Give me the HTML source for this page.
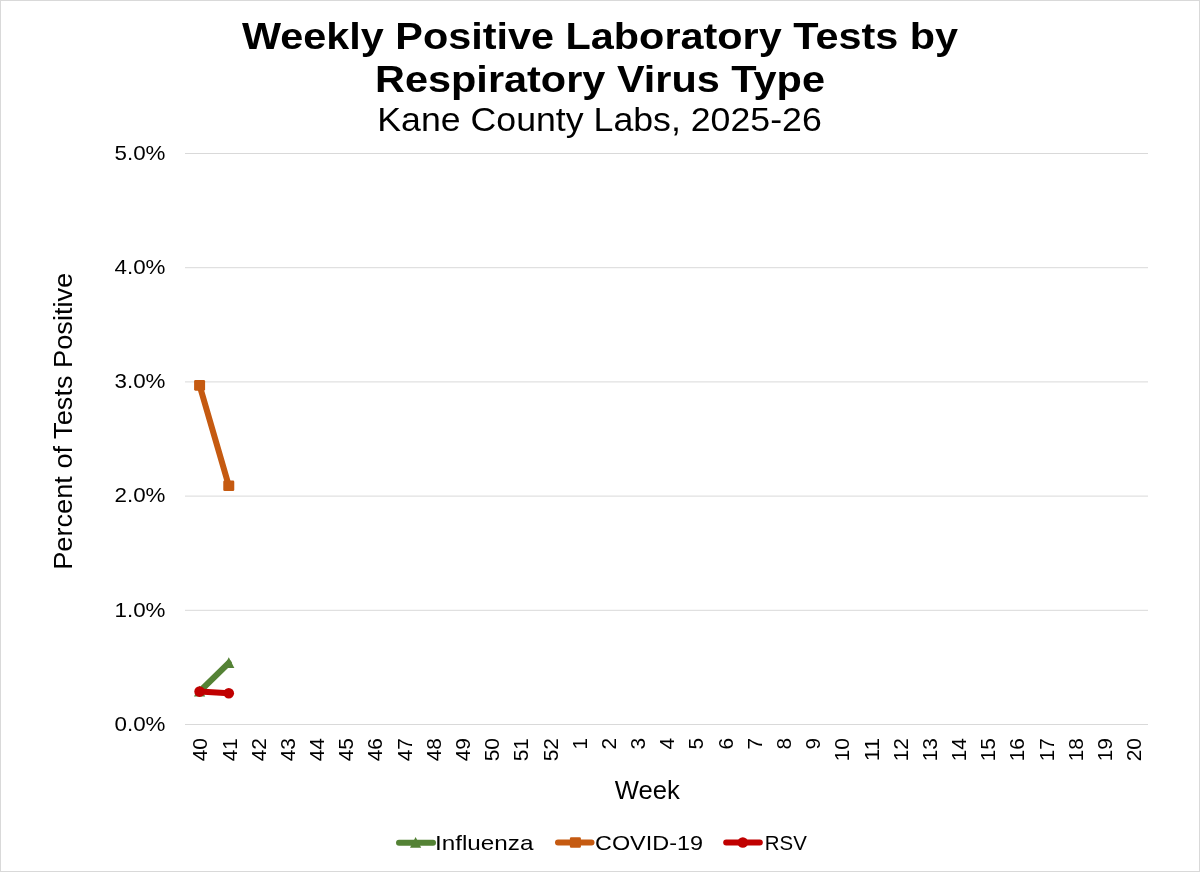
<!DOCTYPE html>
<html><head><meta charset="utf-8"><title>Weekly Positive Laboratory Tests by Respiratory Virus Type</title>
<style>
html,body{margin:0;padding:0;background:#fff;}
body{width:1200px;height:872px;overflow:hidden;}
svg{display:block;will-change:transform;}
text{font-family:"Liberation Sans", sans-serif;fill:#000;}
</style></head><body>
<svg width="1200" height="872" viewBox="0 0 1200 872">
<rect x="0.5" y="0.5" width="1199" height="871" fill="#ffffff" stroke="#d9d9d9" stroke-width="1"/>

<line x1="185.0" y1="724.50" x2="1148.0" y2="724.50" stroke="#d9d9d9" stroke-width="1"/>
<line x1="185.0" y1="610.30" x2="1148.0" y2="610.30" stroke="#d9d9d9" stroke-width="1"/>
<line x1="185.0" y1="496.10" x2="1148.0" y2="496.10" stroke="#d9d9d9" stroke-width="1"/>
<line x1="185.0" y1="381.90" x2="1148.0" y2="381.90" stroke="#d9d9d9" stroke-width="1"/>
<line x1="185.0" y1="267.70" x2="1148.0" y2="267.70" stroke="#d9d9d9" stroke-width="1"/>
<line x1="185.0" y1="153.50" x2="1148.0" y2="153.50" stroke="#d9d9d9" stroke-width="1"/>
<text x="600" y="48.9" text-anchor="middle" font-size="36" font-weight="bold" textLength="716" lengthAdjust="spacingAndGlyphs">Weekly Positive Laboratory Tests by</text>
<text x="600" y="91.75" text-anchor="middle" font-size="36" font-weight="bold" textLength="450" lengthAdjust="spacingAndGlyphs">Respiratory Virus Type</text>
<text x="599.5" y="130.6" text-anchor="middle" font-size="32.4" textLength="444.5" lengthAdjust="spacingAndGlyphs">Kane County Labs, 2025-26</text>
<text x="165.5" y="730.80" text-anchor="end" font-size="20.4" textLength="51" lengthAdjust="spacingAndGlyphs">0.0%</text>
<text x="165.5" y="616.60" text-anchor="end" font-size="20.4" textLength="51" lengthAdjust="spacingAndGlyphs">1.0%</text>
<text x="165.5" y="502.40" text-anchor="end" font-size="20.4" textLength="51" lengthAdjust="spacingAndGlyphs">2.0%</text>
<text x="165.5" y="388.20" text-anchor="end" font-size="20.4" textLength="51" lengthAdjust="spacingAndGlyphs">3.0%</text>
<text x="165.5" y="274.00" text-anchor="end" font-size="20.4" textLength="51" lengthAdjust="spacingAndGlyphs">4.0%</text>
<text x="165.5" y="159.80" text-anchor="end" font-size="20.4" textLength="51" lengthAdjust="spacingAndGlyphs">5.0%</text>
<text transform="translate(72,569.8) rotate(-90)" x="0" y="0" font-size="25" textLength="297" lengthAdjust="spacingAndGlyphs">Percent of Tests Positive</text>
<text transform="translate(207.39,738) rotate(-90)" x="0" y="0" text-anchor="end" font-size="20" textLength="23.3" lengthAdjust="spacingAndGlyphs">40</text>
<text transform="translate(236.57,738) rotate(-90)" x="0" y="0" text-anchor="end" font-size="20" textLength="23.3" lengthAdjust="spacingAndGlyphs">41</text>
<text transform="translate(265.75,738) rotate(-90)" x="0" y="0" text-anchor="end" font-size="20" textLength="23.3" lengthAdjust="spacingAndGlyphs">42</text>
<text transform="translate(294.94,738) rotate(-90)" x="0" y="0" text-anchor="end" font-size="20" textLength="23.3" lengthAdjust="spacingAndGlyphs">43</text>
<text transform="translate(324.12,738) rotate(-90)" x="0" y="0" text-anchor="end" font-size="20" textLength="23.3" lengthAdjust="spacingAndGlyphs">44</text>
<text transform="translate(353.30,738) rotate(-90)" x="0" y="0" text-anchor="end" font-size="20" textLength="23.3" lengthAdjust="spacingAndGlyphs">45</text>
<text transform="translate(382.48,738) rotate(-90)" x="0" y="0" text-anchor="end" font-size="20" textLength="23.3" lengthAdjust="spacingAndGlyphs">46</text>
<text transform="translate(411.66,738) rotate(-90)" x="0" y="0" text-anchor="end" font-size="20" textLength="23.3" lengthAdjust="spacingAndGlyphs">47</text>
<text transform="translate(440.85,738) rotate(-90)" x="0" y="0" text-anchor="end" font-size="20" textLength="23.3" lengthAdjust="spacingAndGlyphs">48</text>
<text transform="translate(470.03,738) rotate(-90)" x="0" y="0" text-anchor="end" font-size="20" textLength="23.3" lengthAdjust="spacingAndGlyphs">49</text>
<text transform="translate(499.21,738) rotate(-90)" x="0" y="0" text-anchor="end" font-size="20" textLength="23.3" lengthAdjust="spacingAndGlyphs">50</text>
<text transform="translate(528.39,738) rotate(-90)" x="0" y="0" text-anchor="end" font-size="20" textLength="23.3" lengthAdjust="spacingAndGlyphs">51</text>
<text transform="translate(557.57,738) rotate(-90)" x="0" y="0" text-anchor="end" font-size="20" textLength="23.3" lengthAdjust="spacingAndGlyphs">52</text>
<text transform="translate(586.75,738) rotate(-90)" x="0" y="0" text-anchor="end" font-size="20" textLength="11.6" lengthAdjust="spacingAndGlyphs">1</text>
<text transform="translate(615.94,738) rotate(-90)" x="0" y="0" text-anchor="end" font-size="20" textLength="11.6" lengthAdjust="spacingAndGlyphs">2</text>
<text transform="translate(645.12,738) rotate(-90)" x="0" y="0" text-anchor="end" font-size="20" textLength="11.6" lengthAdjust="spacingAndGlyphs">3</text>
<text transform="translate(674.30,738) rotate(-90)" x="0" y="0" text-anchor="end" font-size="20" textLength="11.6" lengthAdjust="spacingAndGlyphs">4</text>
<text transform="translate(703.48,738) rotate(-90)" x="0" y="0" text-anchor="end" font-size="20" textLength="11.6" lengthAdjust="spacingAndGlyphs">5</text>
<text transform="translate(732.66,738) rotate(-90)" x="0" y="0" text-anchor="end" font-size="20" textLength="11.6" lengthAdjust="spacingAndGlyphs">6</text>
<text transform="translate(761.85,738) rotate(-90)" x="0" y="0" text-anchor="end" font-size="20" textLength="11.6" lengthAdjust="spacingAndGlyphs">7</text>
<text transform="translate(791.03,738) rotate(-90)" x="0" y="0" text-anchor="end" font-size="20" textLength="11.6" lengthAdjust="spacingAndGlyphs">8</text>
<text transform="translate(820.21,738) rotate(-90)" x="0" y="0" text-anchor="end" font-size="20" textLength="11.6" lengthAdjust="spacingAndGlyphs">9</text>
<text transform="translate(849.39,738) rotate(-90)" x="0" y="0" text-anchor="end" font-size="20" textLength="23.3" lengthAdjust="spacingAndGlyphs">10</text>
<text transform="translate(878.57,738) rotate(-90)" x="0" y="0" text-anchor="end" font-size="20" textLength="23.3" lengthAdjust="spacingAndGlyphs">11</text>
<text transform="translate(907.75,738) rotate(-90)" x="0" y="0" text-anchor="end" font-size="20" textLength="23.3" lengthAdjust="spacingAndGlyphs">12</text>
<text transform="translate(936.94,738) rotate(-90)" x="0" y="0" text-anchor="end" font-size="20" textLength="23.3" lengthAdjust="spacingAndGlyphs">13</text>
<text transform="translate(966.12,738) rotate(-90)" x="0" y="0" text-anchor="end" font-size="20" textLength="23.3" lengthAdjust="spacingAndGlyphs">14</text>
<text transform="translate(995.30,738) rotate(-90)" x="0" y="0" text-anchor="end" font-size="20" textLength="23.3" lengthAdjust="spacingAndGlyphs">15</text>
<text transform="translate(1024.48,738) rotate(-90)" x="0" y="0" text-anchor="end" font-size="20" textLength="23.3" lengthAdjust="spacingAndGlyphs">16</text>
<text transform="translate(1053.66,738) rotate(-90)" x="0" y="0" text-anchor="end" font-size="20" textLength="23.3" lengthAdjust="spacingAndGlyphs">17</text>
<text transform="translate(1082.85,738) rotate(-90)" x="0" y="0" text-anchor="end" font-size="20" textLength="23.3" lengthAdjust="spacingAndGlyphs">18</text>
<text transform="translate(1112.03,738) rotate(-90)" x="0" y="0" text-anchor="end" font-size="20" textLength="23.3" lengthAdjust="spacingAndGlyphs">19</text>
<text transform="translate(1141.21,738) rotate(-90)" x="0" y="0" text-anchor="end" font-size="20" textLength="23.3" lengthAdjust="spacingAndGlyphs">20</text>
<text x="614.8" y="799.2" font-size="25" textLength="65" lengthAdjust="spacingAndGlyphs">Week</text>
<path d="M199.59,691.50 L228.77,663.00" fill="none" stroke="#548235" stroke-width="6" stroke-linejoin="round" stroke-linecap="round"/>
<path d="M199.59,685.70 L205.19,696.50 L193.99,696.50 Z" fill="#548235"/>
<path d="M228.77,657.20 L234.37,668.00 L223.17,668.00 Z" fill="#548235"/>
<path d="M199.59,385.35 L228.77,485.70" fill="none" stroke="#c55a11" stroke-width="6" stroke-linejoin="round" stroke-linecap="round"/>
<rect x="194.09" y="380.05" width="11" height="10.6" rx="1.3" fill="#c55a11"/>
<rect x="223.27" y="480.40" width="11" height="10.6" rx="1.3" fill="#c55a11"/>
<path d="M199.59,691.60 L228.77,693.30" fill="none" stroke="#c00000" stroke-width="6" stroke-linejoin="round" stroke-linecap="round"/>
<circle cx="199.59" cy="691.60" r="5.3" fill="#c00000"/>
<circle cx="228.77" cy="693.30" r="5.3" fill="#c00000"/>
<line x1="399" y1="842.75" x2="433" y2="842.75" stroke="#548235" stroke-width="6" stroke-linecap="round"/>
<path d="M415.60,836.95 L421.20,847.75 L410.00,847.75 Z" fill="#548235"/>
<text x="435" y="849.9" font-size="21" textLength="98.5" lengthAdjust="spacingAndGlyphs">Influenza</text>
<line x1="558" y1="842.5" x2="591.5" y2="842.5" stroke="#c55a11" stroke-width="6" stroke-linecap="round"/>
<rect x="569.90" y="837.20" width="11" height="10.6" rx="1.3" fill="#c55a11"/>
<text x="595" y="849.9" font-size="21" textLength="108" lengthAdjust="spacingAndGlyphs">COVID-19</text>
<line x1="726.2" y1="842.5" x2="759.8" y2="842.5" stroke="#c00000" stroke-width="6" stroke-linecap="round"/>
<circle cx="742.80" cy="842.50" r="5.3" fill="#c00000"/>
<text x="764.8" y="849.9" font-size="21" textLength="42" lengthAdjust="spacingAndGlyphs">RSV</text>
</svg></body></html>
